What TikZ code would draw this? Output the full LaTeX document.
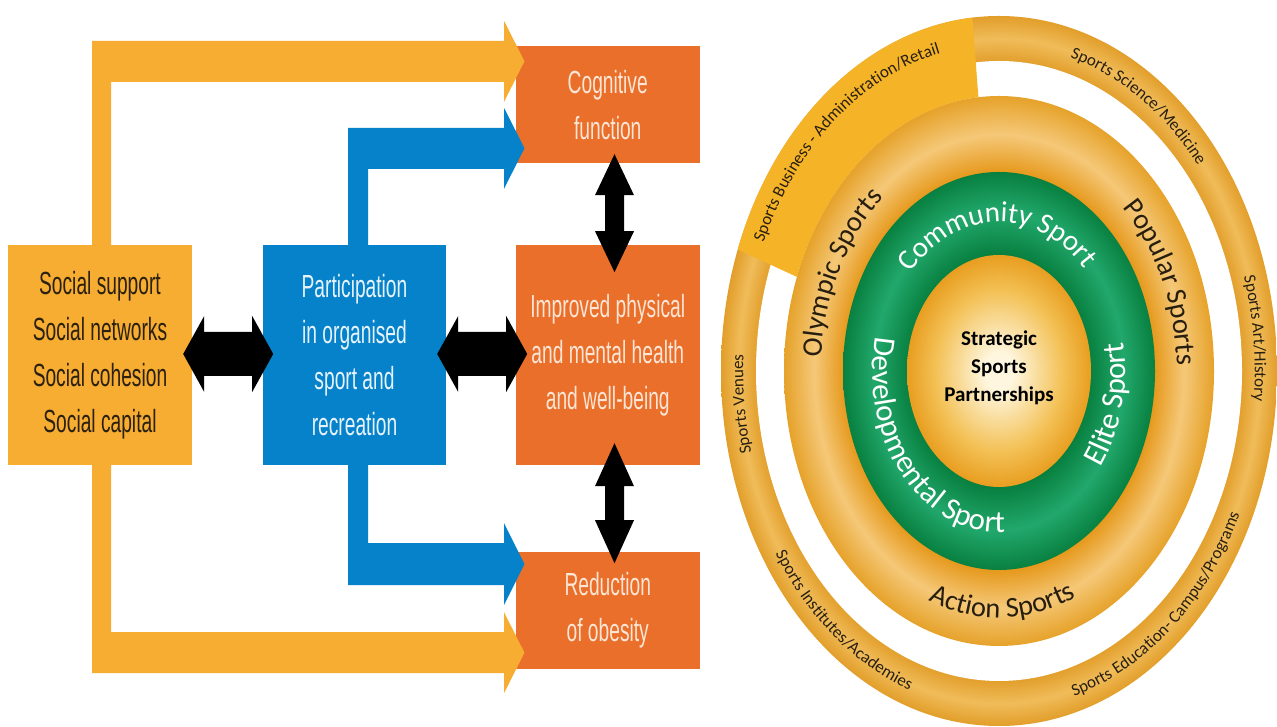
\documentclass[tikz,border=0pt]{standalone}
\usepackage{fontspec}
\setmainfont{Liberation Sans}
\newfontfamily\condfont[FakeStretch=0.6]{Liberation Sans}
\newfontfamily\rfont{Carlito}
\usetikzlibrary{calc,decorations.text}
\definecolor{yelo}{RGB}{247,172,50}
\definecolor{bluebox}{RGB}{5,130,202}
\definecolor{orbox}{RGB}{233,111,43}
\definecolor{socialtxt}{RGB}{43,33,16}
\definecolor{ortxt}{RGB}{252,229,212}
\definecolor{bltxt}{RGB}{230,242,250}
\definecolor{txtdark}{RGB}{40,30,15}
\definecolor{rdark}{RGB}{226,158,42}
\definecolor{rlight}{RGB}{240,188,90}
\definecolor{mdark}{RGB}{230,154,30}
\definecolor{mlight}{RGB}{245,200,120}
\definecolor{medge}{RGB}{230,162,42}
\definecolor{gdark}{RGB}{8,128,64}
\definecolor{glight}{RGB}{34,168,108}
\definecolor{icenter}{RGB}{254,246,222}
\definecolor{imid}{RGB}{243,192,84}
\definecolor{iedge}{RGB}{232,158,32}
\definecolor{bizcol}{RGB}{245,180,40}
\pgfdeclareradialshading{outerringsh}{\pgfpoint{0bp}{0bp}}{color(0bp)=(rdark); color(21.75bp)=(rdark); color(23.4bp)=(rlight); color(25bp)=(rdark); color(50bp)=(rdark)}
\pgfdeclareradialshading{midsh}{\pgfpoint{0bp}{0bp}}{color(0bp)=(mdark); color(18.15bp)=(mdark); color(21.5bp)=(mlight); color(25bp)=(medge); color(50bp)=(medge)}
\pgfdeclareradialshading{greensh}{\pgfpoint{0bp}{0bp}}{color(0bp)=(gdark); color(14.7bp)=(gdark); color(20bp)=(glight); color(25bp)=(gdark); color(50bp)=(gdark)}
\pgfdeclareradialshading{innersh}{\pgfpoint{0bp}{0bp}}{color(0bp)=(icenter); color(4bp)=(icenter); color(17.5bp)=(imid); color(25bp)=(iedge); color(50bp)=(iedge)}
\newcommand\arctext[6]{\path[decorate,decoration={text along path,text align=center,text={|#5|#6}}] ($(C)+(#1:#3 and #4)$) arc[start angle=#1,end angle=#2,x radius=#3,y radius=#4];}
\newcommand\fo{\rfont\fontsize{17}{17}\selectfont\color{txtdark}}
\newcommand\fm{\rfont\fontsize{28.5}{28.5}\selectfont\color{txtdark}}
\newcommand\fg{\rfont\fontsize{31}{31}\selectfont\color{white}}
\newcommand\fgc{\rfont\fontsize{29}{29}\selectfont\color{white}}
\begin{document}
\begin{tikzpicture}[x=1pt,y=1pt,
  box/.style={inner sep=0pt, align=center, font=\condfont\fontsize{32}{46}\selectfont},
  blk/.style={fill=black}]
\useasboundingbox (0,0) rectangle (1277,727);
\fill[white] (0,0) rectangle (1277,727);
% ---------- left diagram ----------
\node[box, fill=yelo, text=socialtxt, minimum width=184pt, minimum height=220pt] (social) at (100,372) {Social support\\Social networks\\Social cohesion\\Social capital};
\node[box, fill=bluebox, text=bltxt, minimum width=183pt, minimum height=220pt] (part) at (354.5,372) {Participation\\in organised\\sport and\\recreation};
\node[box, fill=orbox, text=ortxt, minimum width=184.5pt, minimum height=220pt] (health) at (607.75,372) {Improved physical\\and mental health\\and well-being};
\node[box, fill=orbox, text=ortxt, minimum width=184.5pt, minimum height=116.5pt] (cog) at (607.75,622.25) {Cognitive\\function};
\node[box, fill=orbox, text=ortxt, minimum width=184.5pt, minimum height=117pt] (obes) at (607.75,116.5) {Reduction\\of obesity};
% colored block arrows
\fill[yelo] ($(social.north)+(-8,0)$) --++(0,204) --++(412,0) --++(0,20) --++(20.5,-40.5) --++(-20.5,-40.5) --++(0,20) --++(-393,0) --++(0,-163) -- cycle;
\fill[yelo] ($(social.south)+(-8,0)$) --++(0,-208) --++(412,0) --++(0,-20) --++(20.5,40.5) --++(-20.5,40.5) --++(0,-20) --++(-393,0) --++(0,167) -- cycle;
\fill[bluebox] ($(part.north)+(-6.5,0)$) --++(0,117) --++(156,0) --++(0,20) --++(20.5,-40.5) --++(-20.5,-40.5) --++(0,20) --++(-136,0) --++(0,-76) -- cycle;
\fill[bluebox] ($(part.south)+(-6.5,0)$) --++(0,-120) --++(156,0) --++(0,-20) --++(20.5,41) --++(-20.5,41) --++(0,-20) --++(-136,0) --++(0,78) -- cycle;
% black double arrows
\fill[blk] ($(social.east)+(-9,1)$) --++(21,38) --++(0,-16) --++(48,0) --++(0,16) --++(21,-38) --++(-21,-38) --++(0,16) --++(-48,0) --++(0,-16) -- cycle;
\fill[blk] ($(part.east)+(-9,1)$) --++(21,38) --++(0,-16) --++(48,0) --++(0,16) --++(21,-38) --++(-21,-38) --++(0,16) --++(-48,0) --++(0,-16) -- cycle;
\fill[blk] ($(cog.south)+(6.75,9)$) --++(19.5,-41) --++(-10,0) --++(0,-36) --++(10,0) --++(-19.5,-41) --++(-19.5,41) --++(10,0) --++(0,36) --++(-10,0) -- cycle;
\fill[blk] ($(health.south)+(6.75,22)$) --++(19.5,-43) --++(-10,0) --++(0,-34) --++(10,0) --++(-19.5,-43) --++(-19.5,43) --++(10,0) --++(0,34) --++(-10,0) -- cycle;
% ---------- right diagram ----------
\coordinate (C) at (999,356);
\shade[shading=outerringsh] (C) ellipse [x radius=278, y radius=355];
\fill[white] (C) ellipse [x radius=243, y radius=310];
\fill[bizcol] ($(C)+(95.5:278 and 355)$) arc[start angle=95.5,end angle=160,x radius=278,y radius=355] -- ($(C)+(160:215 and 275)$) arc[start angle=160,end angle=95.5,x radius=215,y radius=275] -- cycle;
\shade[shading=midsh] (C) ellipse [x radius=215, y radius=275];
\shade[shading=greensh] (C) ellipse [x radius=156, y radius=199];
\shade[shading=innersh] (C) ellipse [x radius=92, y radius=116];
\node[font=\rfont\bfseries\fontsize{21}{28}\selectfont, align=center, text=black] (ssp) at ($(C)+(0,3)$) {Strategic\\Sports\\Partnerships};
% outer ring labels
\arctext{173}{83}{255.8}{326.6}{\fo}{Sports Business - Administration/Retail}
\arctext{93}{23}{255.8}{326.6}{\fo}{Sports Science/Medicine}
\arctext{36}{-24}{255.8}{326.6}{\fo}{Sports Art/History}
\arctext{211}{161}{255.8}{326.6}{\fo}{Sports Venues}
\arctext{198}{268}{265.5}{339}{\fo}{Sports Institutes/Academies}
\arctext{269}{349}{265.5}{339}{\fo}{Sports Education- Campus/Programs}
% middle ring labels
\arctext{192}{112}{177.9}{227.2}{\fm}{Olympic Sports}
\arctext{65}{-15}{177.9}{227.2}{\fm}{Popular Sports}
\arctext{231}{311}{193.2}{246.7}{\fm}{Action Sports}
% green ring labels
\arctext{151}{31}{117}{149}{\fgc}{Community Sport}
\arctext{152}{292}{126.5}{161.5}{\fg}{Developmental Sport}
\arctext{306}{386}{126.5}{161.5}{\fg}{Elite Sport}
\end{tikzpicture}
\end{document}
